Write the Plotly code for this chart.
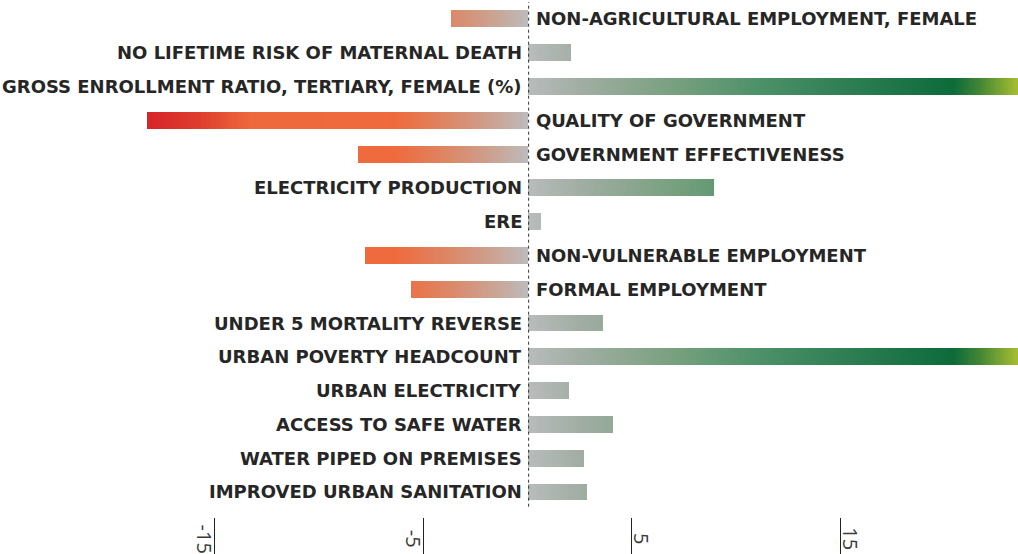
import plotly.graph_objects as go
from plotly.colors import sample_colorscale

categories = [
    "NON-AGRICULTURAL EMPLOYMENT, FEMALE",
    "NO LIFETIME RISK OF MATERNAL DEATH",
    "GROSS ENROLLMENT RATIO, TERTIARY, FEMALE (%)",
    "QUALITY OF GOVERNMENT",
    "GOVERNMENT EFFECTIVENESS",
    "ELECTRICITY PRODUCTION",
    "ERE",
    "NON-VULNERABLE EMPLOYMENT",
    "FORMAL EMPLOYMENT",
    "UNDER 5 MORTALITY REVERSE",
    "URBAN POVERTY HEADCOUNT",
    "URBAN ELECTRICITY",
    "ACCESS TO SAFE WATER",
    "WATER PIPED ON PREMISES",
    "IMPROVED URBAN SANITATION",
]
values = [-3.67, 2.08, 23.5, -18.23, -8.12, 8.93, 0.64, -7.78, -5.58,
          3.61, 23.5, 1.98, 4.09, 2.70, 2.84]
tick_values = [-15, -5, 5, 15]
tick_labels = ["-15", "-5", "5", "15"]

X_MIN, X_MAX = -25.27, 23.49

# colour stops along the value axis (value, colour)
neg_stops = [(-18.3, "#d7222a"), (-15.5, "#e0402f"), (-13.2, "#ee6a3c"),
             (-6.4, "#ef6a3c"), (-3.7, "#dc8868"), (-1.5, "#c9a595"),
             (0.0, "#bcbcbc")]
pos_stops = [(0.0, "#b9bcbc"), (2.4, "#a2aea4"), (7.2, "#76a07e"),
             (11.2, "#4c9068"), (16.0, "#2a7b50"), (18.4, "#197245"),
             (20.4, "#0d6b3a"), (21.6, "#3f8535"), (23.5, "#a8be30")]


def color_at(v):
    stops = neg_stops if v < 0 else pos_stops
    lo, hi = stops[0][0], stops[-1][0]
    cs = [[(s - lo) / (hi - lo), c] for s, c in stops]
    t = min(max((v - lo) / (hi - lo), 0), 1)
    return sample_colorscale(cs, [t])[0]


STEP = 0.08
seg_x, seg_y, seg_c = [], [], []
for cat, val in zip(categories, values):
    n = max(int(abs(val) / STEP), 1)
    for k in range(n, 0, -1):  # longest first, shorter drawn on top
        end = val * k / n
        seg_x.append(end)
        seg_y.append(cat)
        seg_c.append(color_at(val * (k - 0.5) / n))

fig = go.Figure()
fig.add_trace(go.Bar(
    x=seg_x, y=seg_y, orientation="h",
    marker=dict(color=seg_c, line=dict(width=0)),
    width=0.5, hoverinfo="skip", showlegend=False,
))

LABEL_FONT = dict(family="DejaVu Sans", size=18, color="#262626", weight="bold")
annotations = []
for cat, val in zip(categories, values):
    if val >= 0:
        annotations.append(dict(x=0, y=cat, xref="x", yref="y", text=cat,
                                xanchor="right", xshift=-4, showarrow=False,
                                font=LABEL_FONT))
    else:
        annotations.append(dict(x=0, y=cat, xref="x", yref="y", text=cat,
                                xanchor="left", xshift=6, showarrow=False,
                                font=LABEL_FONT))

for tv, tl in zip(tick_values, tick_labels):
    annotations.append(dict(x=tv, y=0, xref="x", yref="paper", text=tl,
                            textangle=90, showarrow=False,
                            xanchor="center",
                            xshift=-9 if tv < 0 else 10,
                            yanchor="middle", yshift=-22,
                            font=dict(family="Open Sans", size=20, color="#3a3a3a")))

fig.update_layout(
    width=1018, height=554,
    margin=dict(l=0, r=0, t=2, b=37),
    paper_bgcolor="white", plot_bgcolor="white",
    barmode="overlay", bargap=0,
    annotations=annotations,
    shapes=[dict(type="line", xref="x", yref="paper", x0=0.05, x1=0.05,
                 y0=0.02, y1=1.0, line=dict(color="#333333", width=1, dash="dot"))],
    xaxis=dict(range=[X_MIN, X_MAX], tickvals=tick_values, showticklabels=False,
               ticks="outside", ticklen=37, tickcolor="#222222", tickwidth=1,
               showgrid=False, zeroline=False, showline=False, fixedrange=True),
    yaxis=dict(categoryorder="array", categoryarray=categories,
               range=[14.74, -0.5], showticklabels=False, ticks="",
               showgrid=False, zeroline=False, showline=False, fixedrange=True),
)

fig.write_html(
    "out.html",
    config={"displayModeBar": False, "staticPlot": True},
    post_script="document.body.style.margin='0';document.body.style.overflow='hidden';",
)
